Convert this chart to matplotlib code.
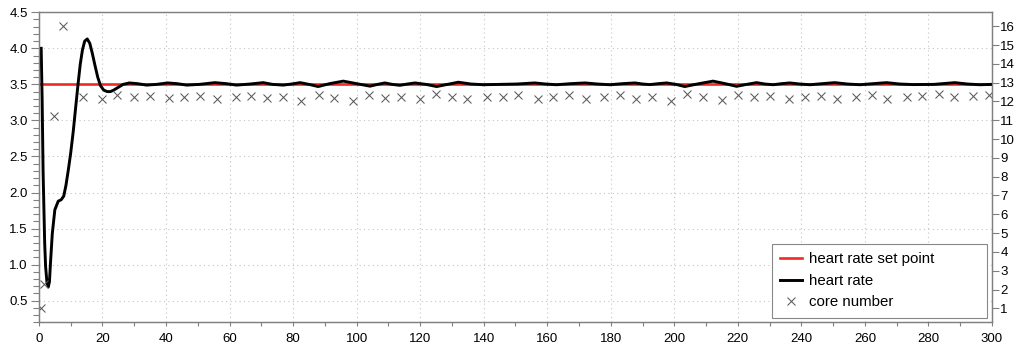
import matplotlib
matplotlib.use("Agg")
import matplotlib.pyplot as plt
from matplotlib.ticker import MultipleLocator, FormatStrFormatter
import numpy as np

plt.rcParams['font.family'] = ['Liberation Sans', 'DejaVu Sans']

# heart rate (left axis)
hr_t = [0.7, 1.0, 1.3, 1.5, 1.8, 2.1, 2.5, 2.93, 3.3, 3.6, 4.2, 5.0, 6.07, 7.0, 7.8, 8.5, 9.2,
        10.0, 10.8, 11.6, 12.3, 13.0, 13.7, 14.4, 15.2, 16.0, 16.8, 17.6, 18.5,
        19.4, 20.4, 21.5, 22.5, 23.5, 25.0, 26.5, 28.5, 31.0, 33.9, 37.0, 40.5,
        43.5, 46.5, 50.5, 55.4, 59.0, 62.2, 66.5, 70.6, 73.5, 76.9, 79.5, 82.2,
        85.0, 87.9, 91.5, 95.8, 100.0, 104.2, 106.6, 108.9, 111.2, 113.6, 116.0,
        118.4, 121.8, 125.2, 128.6, 132.0, 136.0, 139.9, 145.0, 150.5, 156.1,
        159.5, 162.9, 167.4, 171.9, 175.8, 179.7, 183.7, 187.6, 190.0, 192.3,
        195.0, 197.6, 200.5, 203.3, 207.8, 212.2, 216.0, 219.6, 222.8, 225.9,
        228.5, 231.1, 233.8, 236.4, 239.5, 242.7, 246.6, 250.5, 254.5, 258.4,
        262.6, 266.8, 271.0, 275.2, 281.7, 288.3, 292.3, 296.2, 300.0]
hr_v = [4.0, 3.3, 2.3, 1.9, 1.3, 0.97, 0.76, 0.69, 0.76, 1.0, 1.43, 1.76, 1.88, 1.9, 1.95, 2.1, 2.3,
        2.55, 2.85, 3.2, 3.5, 3.78, 3.98, 4.1, 4.13, 4.07, 3.93, 3.77, 3.6,
        3.48, 3.42, 3.4, 3.4, 3.42, 3.46, 3.5, 3.52, 3.51, 3.49, 3.5, 3.52,
        3.51, 3.49, 3.5, 3.524, 3.51, 3.49, 3.505, 3.524, 3.5, 3.49, 3.505, 3.524,
        3.5, 3.47, 3.51, 3.545, 3.51, 3.475, 3.5, 3.52, 3.5, 3.487, 3.505,
        3.52, 3.5, 3.47, 3.5, 3.53, 3.505, 3.495, 3.5, 3.505, 3.52,
        3.505, 3.495, 3.51, 3.52, 3.505, 3.495, 3.51, 3.52, 3.505, 3.497,
        3.51, 3.52, 3.5, 3.47, 3.51, 3.545, 3.51, 3.473, 3.5, 3.524,
        3.505, 3.495, 3.51, 3.52, 3.505, 3.495, 3.51, 3.524, 3.505, 3.495,
        3.51, 3.524, 3.505, 3.497, 3.5, 3.524, 3.505, 3.495, 3.5]

set_point_t = [0, 300]
set_point_v = [3.5, 3.5]

# core number (right axis)
core_t = [0.7, 1.5, 4.8, 7.7, 13.8, 19.8, 24.7, 29.8, 34.8, 40.9, 45.8, 50.8, 55.9,
          61.9, 66.9, 71.8, 76.8, 82.5, 88.0, 92.9, 98.9, 103.9, 108.9, 113.9,
          119.9, 124.9, 129.9, 134.9, 140.9, 146.0, 150.9, 157.0, 161.9, 166.9,
          172.1, 177.9, 182.9, 187.9, 192.9, 198.9, 204.1, 208.9, 214.9, 219.9,
          225.1, 230.1, 236.1, 241.1, 246.1, 251.3, 257.2, 262.2, 267.1, 273.1,
          278.1, 283.2, 288.1, 294.1, 299.1]
core_v = [1.0, 2.29, 11.24, 16.0, 12.24, 12.12, 12.36, 12.22, 12.31, 12.17, 12.24, 12.28, 12.15,
          12.22, 12.28, 12.17, 12.22, 12.04, 12.36, 12.19, 12.04, 12.36, 12.19, 12.26,
          12.12, 12.40, 12.26, 12.12, 12.22, 12.22, 12.35, 12.12, 12.26, 12.35,
          12.13, 12.22, 12.35, 12.13, 12.26, 12.04, 12.40, 12.22, 12.08, 12.35,
          12.22, 12.31, 12.13, 12.26, 12.31, 12.13, 12.22, 12.35, 12.13, 12.22,
          12.31, 12.40, 12.22, 12.31, 12.35]

SPINE = '#808080'

fig = plt.figure(figsize=(10.17, 3.47), dpi=100)
ax = fig.add_axes([0.0383, 0.0712, 0.9371, 0.8934])

l_set, = ax.plot(set_point_t, set_point_v, color='#ee2a24', lw=1.9,
                 label='heart rate set point', zorder=3)
l_hr, = ax.plot(hr_t, hr_v, color='black', lw=2.1, label='heart rate', zorder=4)

ax.set_xlim(0, 300)
ax.set_ylim(0.2, 4.5)
ax.xaxis.set_major_locator(MultipleLocator(20))
ax.xaxis.set_minor_locator(MultipleLocator(10))
ax.yaxis.set_major_locator(MultipleLocator(0.5))
ax.yaxis.set_minor_locator(MultipleLocator(0.1))
ax.yaxis.set_major_formatter(FormatStrFormatter('%.1f'))
ax.grid(True, which='major', color='#c4c4c4', linestyle=(0, (1, 3)), linewidth=0.8)
ax.tick_params(axis='y', which='major', length=6, width=0.8, color=SPINE,
               labelsize=9.5, pad=2)
ax.tick_params(axis='y', which='minor', length=4, width=0.8, color=SPINE)
ax.tick_params(axis='x', which='both', length=3, width=0.8, color=SPINE,
               labelsize=9.5, pad=5)

ax2 = ax.twinx()
l_core, = ax2.plot(core_t, core_v, linestyle='none', marker='x', markersize=5.5,
                   markeredgewidth=0.75, color='#5a5a5a', label='core number')
ax2.set_ylim(0.256, 16.745)
ax2.set_yticks(np.arange(1, 17))
ax2.tick_params(axis='y', length=5, width=0.8, color=SPINE, labelsize=9.5, pad=1)

for a in (ax, ax2):
    for sp in a.spines.values():
        sp.set_color(SPINE)
        sp.set_linewidth(0.9)

# legend box is wider than its content in the original, so stretch it
leg = ax2.legend(handles=[l_set, l_hr, l_core], loc='lower left',
                 bbox_to_anchor=(0.769, 0.0148, 0.2258, 0.0), mode='expand',
                 fontsize=10.8, frameon=True, fancybox=False, framealpha=1,
                 edgecolor='#888888', borderaxespad=0.0, handlelength=1.47,
                 labelspacing=0.5, borderpad=0.55, handletextpad=0.47)
leg.get_frame().set_linewidth(0.8)

fig.savefig('out.png', dpi=100)
